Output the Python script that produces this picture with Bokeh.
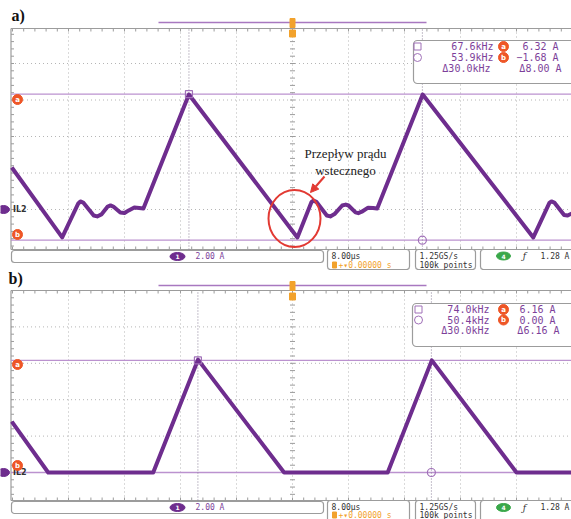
import numpy as np
from bokeh.plotting import figure
from bokeh.layouts import column
from bokeh.models import Range1d, Arrow, NormalHead
from bokeh.core.properties import value
from bokeh.embed import file_html
from bokeh.resources import INLINE

# ---------------- data ----------------
# panel a) inductor current IL2 [A] versus time [µs] (trigger at t = 0)
time_a = [-40.1, -32.9, -30.6, -30.3, -29.9, -28.4, -27.9, -27.3, -26.4, -26.0,
          -25.6, -24.6, -24.0, -23.4, -22.6, -21.9, -21.3, -14.8,
          0.7, 2.7, 3.0, 3.4, 4.9, 5.4, 6.0, 7.1, 7.6, 8.0, 9.0, 9.4, 9.9, 10.8,
          11.5, 12.1, 18.6,
          34.4, 36.7, 37.0, 37.4, 38.8, 39.3, 40.0]
current_a = [2.3, -1.53, 0.33, 0.44, 0.38, -0.33, -0.38, -0.27, 0.16, 0.22,
             0.16, -0.16, -0.19, -0.05, 0.11, 0.08, 0.05, 6.3,
             -1.53, 0.40, 0.49, 0.42, -0.33, -0.38, -0.25, 0.22, 0.27, 0.22, -0.16,
             -0.20, -0.12, 0.10, 0.08, 0.05, 6.3,
             -1.53, 0.36, 0.44, 0.38, -0.30, -0.33, -0.20]

# panel b)
time_b = [-40.1, -34.9, -19.9, -13.5, -1.2, 13.6, 19.9, 32.0, 40.0]
current_b = [2.8, 0.0, 0.0, 6.2, 0.0, 0.0, 6.16, 0.0, 0.0]

# cursor readouts  (square cursor, circle cursor)
cursor_freq_a = [67.6, 53.9]      # kHz
cursor_amp_a = [6.32, -1.68]      # A
delta_freq_a, delta_amp_a = 30.0, 8.00
cursor_freq_b = [74.0, 50.4]
cursor_amp_b = [6.16, 0.00]
delta_freq_b, delta_amp_b = 30.0, 6.16

grid_time_ticks = [-32, -24, -16, -8, 0, 8, 16, 24, 32]   # µs (8 µs/div)
grid_amp_ticks = [0, 2, 4, 6, 8]                           # A  (2 A/div)

vertical_scale = "2.00 A"
time_scale = "8.00µs"
delay_text = "0.00000 s"
sample_rate = "1.25GS/s"
record_length = "100k points"
trigger_level = "1.28 A"
channel_label = "IL2"
panel_labels = ["a)", "b)"]
annotation_lines = ["Przepływ prądu", "wstecznego"]

# ---------------- style ----------------
TRACE = "#6e2d8e"
CURSOR = "#bb92cf"
GRIDC = "#b5b5b5"
BORDER = "#9c9c9c"
PTXT = "#7d3f9a"
ORANGE = "#f2a22c"
REDMARK = "#ee5627"
MONO = value("DejaVu Sans Mono")
SERIF = value("Liberation Serif")
W = 571
X0, PXU = 292.0, 7.0      # image px of t=0, px per µs
IMG_LEFT = 0


def fmt_amp(a):
    s = f"{a:.2f} A"
    return s.replace("-", "−")


def make_panel(label, t, i, freqs, amps, dfreq, damp, L, annotate=False):
    Y0, PYA, top, h = L["y0"], L["pya"], L["top"], L["h"]
    tx = lambda px: (px - X0) / PXU
    ty = lambda py: (Y0 - py) / PYA
    wx = lambda px: px / PXU
    hy = lambda py: py / PYA

    p = figure(width=W, height=h, output_backend="svg", toolbar_location=None,
               x_range=Range1d(tx(IMG_LEFT), tx(IMG_LEFT + W)),
               y_range=Range1d(ty(top + h), ty(top)),
               x_axis_location=None, y_axis_location=None, min_border=0)
    p.grid.visible = False
    p.outline_line_color = None
    p.background_fill_color = "white"
    p.border_fill_color = "white"

    def T(xs, ys, texts, size, color, align="left", font=MONO, style="normal"):
        p.text(x=xs, y=ys, text=texts, text_align=align, text_baseline="middle",
               text_font=font, text_font_size=value(size), text_color=color,
               text_font_style=style)

    gl, gr = tx(10.5), tx(585)
    gt, gb = ty(L["gtop"]), ty(L["gbot"])

    # dotted graticule
    for tt in grid_time_ticks:
        p.segment(x0=[tt], y0=[gb], x1=[tt], y1=[gt], line_color=GRIDC,
                  line_width=1, line_dash="1 3")
    for aa in grid_amp_ticks:
        p.segment(x0=[gl], y0=[aa], x1=[gr], y1=[aa], line_color=GRIDC,
                  line_width=1, line_dash="1 3")

    # borders with minor ticks
    p.segment(x0=[gl, gl, gl], y0=[gt, gb, gb], x1=[gr, gr, gl], y1=[gt, gb, gt],
              line_color=BORDER, line_width=1.2)
    tt_minor = np.arange(-40, 41, 1.6)
    p.segment(x0=tt_minor, y0=np.full_like(tt_minor, gt), x1=tt_minor,
              y1=np.full_like(tt_minor, gt - hy(3)), line_color=BORDER, line_width=1)
    p.segment(x0=tt_minor, y0=np.full_like(tt_minor, gb), x1=tt_minor,
              y1=np.full_like(tt_minor, gb + hy(3)), line_color=BORDER, line_width=1)
    aa_minor = np.arange(np.ceil(gb / 0.4) * 0.4, gt, 0.4)
    p.segment(x0=np.full_like(aa_minor, gl), y0=aa_minor,
              x1=np.full_like(aa_minor, gl + wx(3)), y1=aa_minor,
              line_color=BORDER, line_width=1)
    p.segment(x0=np.full_like(aa_minor, -wx(2.5)), y0=aa_minor,
              x1=np.full_like(aa_minor, wx(2.5)), y1=aa_minor,
              line_color=BORDER, line_width=1)

    # record view bar and trigger marker
    p.segment(x0=[tx(158)], y0=[ty(L["bar_y"])], x1=[tx(426)], y1=[ty(L["bar_y"])],
              line_color="#a878c0", line_width=1.5)
    p.rect(x=[0], y=[ty(L["bar_y"] + 0.5)], width=wx(5), height=hy(9),
           fill_color=ORANGE, line_color=ORANGE)
    p.rect(x=[0], y=[ty(L["bar_y"] + 11)], width=wx(6), height=hy(7),
           fill_color=ORANGE, line_color=ORANGE)

    # cursors
    t_sq = -1000.0 / freqs[0]
    t_ci = 1000.0 / freqs[1]
    p.segment(x0=[gl, gl], y0=amps, x1=[gr, gr], y1=amps, line_color=CURSOR,
              line_width=1.3)
    p.segment(x0=[t_sq, t_ci], y0=[gb, gb], x1=[t_sq, t_ci], y1=[gt, gt],
              line_color="#8c8098", line_width=1, line_dash="1 2")

    # waveform
    p.line(t, i, line_color=TRACE, line_width=4, line_join="round")

    p.scatter(x=[t_sq], y=[amps[0]], marker="square", size=7, fill_color=None,
              line_color="#a070b8", line_width=1.2)
    p.scatter(x=[t_ci], y=[amps[1]], marker="circle", size=8, fill_color=None,
              line_color="#a070b8", line_width=1.2)

    # channel marker at left
    p.ellipse(x=[tx(3)], y=[0], width=wx(12), height=hy(8), fill_color=TRACE,
              line_color=TRACE)
    T([tx(12.5)], [0], [channel_label], "8px", "#333333", font=value("DejaVu Sans"),
      style="bold")

    # a / b level markers
    p.scatter(x=[tx(17), tx(17)], y=[ty(L["ma_y"]), ty(L["mb_y"])], marker="circle",
              size=10, fill_color=REDMARK, line_color=REDMARK)
    T([tx(17), tx(17)], [ty(L["ma_y"]), ty(L["mb_y"])], ["a", "b"], "7px", "white",
      align="center", font=value("DejaVu Sans"), style="bold")

    # readout box
    bx0, by0, by1 = L["box"]
    p.quad(left=[tx(bx0)], right=[tx(585)], top=[ty(by0)], bottom=[ty(by1)],
           fill_color="white", line_color=BORDER, line_width=1.2, border_radius=4)
    r1, r2, r3 = L["rows"]
    p.scatter(x=[tx(L["mark_x"])], y=[ty(r1)], marker="square", size=7,
              fill_color=None, line_color="#a070b8")
    p.scatter(x=[tx(L["mark_x"])], y=[ty(r2)], marker="circle", size=8,
              fill_color=None, line_color="#a070b8")
    fr = L["freq_right"]
    T([tx(fr[0]), tx(fr[1]), tx(fr[2])], [ty(r1), ty(r2), ty(r3)],
      [f"{freqs[0]:.1f}kHz", f"{freqs[1]:.1f}kHz", f"Δ{dfreq:.1f}kHz"],
      "10px", PTXT, align="right")
    p.scatter(x=[tx(L["ab_x"])] * 2, y=[ty(r1), ty(r2)], marker="circle", size=10,
              fill_color=REDMARK, line_color=REDMARK)
    T([tx(L["ab_x"])] * 2, [ty(r1), ty(r2)], ["a", "b"], "7px", "white",
      align="center", font=value("DejaVu Sans"), style="bold")
    ar = L["amp_right"]
    T([tx(ar[0]), tx(ar[1]), tx(ar[2])], [ty(r1), ty(r2), ty(r3)],
      [fmt_amp(amps[0]), fmt_amp(amps[1]), "Δ" + fmt_amp(damp)],
      "10px", PTXT, align="right")

    # status bar
    s1a, s1b = L["s1"]
    sa, sb = L["s"]
    y1, y2 = L["sty"]
    p.quad(left=[tx(11), tx(327), tx(415), tx(480)],
           right=[tx(323), tx(409), tx(475), tx(590)],
           top=[ty(s1a), ty(sa), ty(sa), ty(sa)],
           bottom=[ty(s1b), ty(sb), ty(sb), ty(sb)],
           fill_color="white", line_color=BORDER, line_width=1.2, border_radius=3)
    ym = ty((s1a + s1b) / 2)
    p.ellipse(x=[tx(177)], y=[ym], width=wx(15), height=hy(8), fill_color=TRACE,
              line_color=TRACE)
    T([tx(177)], [ym], ["1"], "6px", "white", align="center",
      font=value("DejaVu Sans"), style="bold")
    T([tx(195)], [ym], [vertical_scale], "8px", PTXT)
    T([tx(331)], [ty(y1)], [time_scale], "8px", "#333333")
    p.rect(x=[tx(334)], y=[ty(y2)], width=wx(4), height=hy(6), fill_color=ORANGE,
           line_color=ORANGE)
    T([tx(338)], [ty(y2)], ["+▾" + delay_text], "8px", ORANGE)
    T([tx(419), tx(419)], [ty(y1), ty(y2)], [sample_rate, record_length], "8px",
      "#333333")
    p.ellipse(x=[tx(503)], y=[ty(y1)], width=wx(14), height=hy(8),
              fill_color="#3aa84a", line_color="#3aa84a")
    T([tx(503)], [ty(y1)], ["4"], "6px", "white", align="center",
      font=value("DejaVu Sans"), style="bold")
    T([tx(524)], [ty(y1)], ["ƒ"], "9px", "#333333", align="center",
      font=value("DejaVu Serif"), style="italic")
    T([tx(540)], [ty(y1)], [trigger_level], "8px", "#333333")

    # panel label
    T([tx(L["label_x"])], [ty(L["label_y"])], [label], "16px", "#111111",
      font=SERIF, style="bold")

    if annotate:
        T([tx(345), tx(345)], [ty(153), ty(170)], annotation_lines, "13px",
          "#222222", align="center", font=SERIF)
        p.ellipse(x=[tx(294)], y=[ty(218)], width=wx(52), height=hy(57),
                  fill_color=None, line_color="#e23a33", line_width=2)
        p.add_layout(Arrow(end=NormalHead(size=8, fill_color="#e23a33",
                                          line_color="#e23a33"),
                           x_start=tx(324), y_start=ty(176), x_end=tx(310),
                           y_end=ty(192), line_color="#e23a33", line_width=2))
    return p


LA = dict(y0=209, pya=18.25, top=0, h=270, gtop=28, gbot=249, bar_y=22,
          ma_y=99, mb_y=234, box=(413, 40, 83), rows=(46, 57, 68),
          freq_right=(493, 493, 490), ab_x=503, amp_right=(558, 558, 561),
          mark_x=417, s1=(250, 262), s=(249, 269), sty=(255.5, 264.5),
          label_x=11, label_y=15)
LB = dict(y0=472, pya=18.2, top=270, h=249, gtop=290, gbot=500, bar_y=285,
          ma_y=364, mb_y=465, box=(412, 303, 346), rows=(309, 319.5, 330),
          freq_right=(489, 489, 489), ab_x=503, amp_right=(555, 555, 559),
          mark_x=418, s1=(501, 513), s=(500, 522), sty=(507, 514.5),
          label_x=8, label_y=278)

pa = make_panel(panel_labels[0], time_a, current_a, cursor_freq_a, cursor_amp_a,
                delta_freq_a, delta_amp_a, LA, annotate=True)
pb = make_panel(panel_labels[1], time_b, current_b, cursor_freq_b, cursor_amp_b,
                delta_freq_b, delta_amp_b, LB)

layout = column(pa, pb, spacing=0)
open("out.html", "w").write(file_html(layout, INLINE))
